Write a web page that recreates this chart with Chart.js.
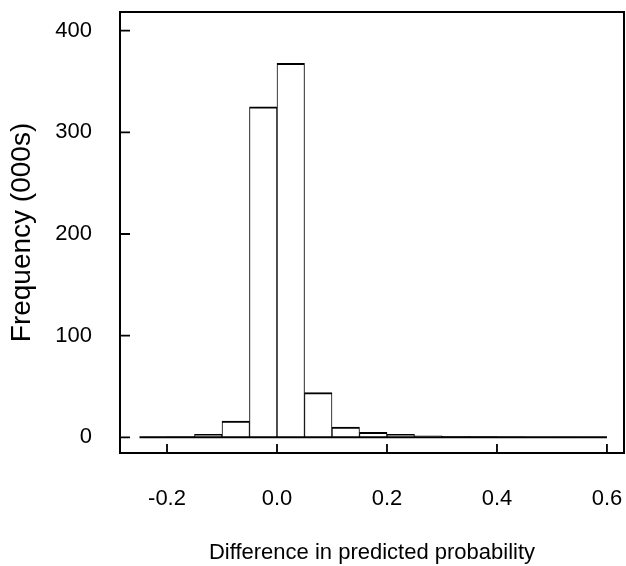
<!DOCTYPE html>
<html>
<head>
<meta charset="utf-8">
<script src="https://cdn.jsdelivr.net/npm/chart.js@4/dist/chart.umd.min.js"></script>
<style>
  html, body { margin: 0; padding: 0; background: #fff; }
  #wrap { width: 626px; height: 566px; }
</style>
</head>
<body>
<div id="wrap"><canvas id="c" width="626" height="566"></canvas></div>
<script>
// Histogram bins (lower edges), width 0.05
const binStarts = [-0.25, -0.2, -0.15, -0.1, -0.05, 0.0, 0.05, 0.1, 0.15, 0.2, 0.25, 0.3, 0.35, 0.4, 0.45, 0.5, 0.55];
const binWidth = 0.05;
// Frequency (000s)
const counts = [0.2, 0.6, 3, 16, 325, 368, 44, 10, 5, 3, 1.5, 1, 0.7, 0.5, 0.3, 0.2, 0.1];

const xTickValues = [-0.2, 0.0, 0.2, 0.4, 0.6];
const xTickLabels = ['-0.2', '0.0', '0.2', '0.4', '0.6'];
const yTickValues = [0, 100, 200, 300, 400];
const yTickLabels = ['0', '100', '200', '300', '400'];

const xTitle = 'Difference in predicted probability';
const yTitle = 'Frequency (000s)';

const FAMILY = '"Liberation Sans", Arial, Helvetica, sans-serif';
const TICK_FONT = { family: FAMILY, size: 22 };
const XTITLE_FONT = { family: FAMILY, size: 22 };
const YTITLE_FONT = { family: FAMILY, size: 28 };

const barData = binStarts.map((s, i) => ({ x: s + binWidth / 2, y: counts[i] }));
const baseData = [
  { x: binStarts[0], y: 0 },
  { x: binStarts[binStarts.length - 1] + binWidth, y: 0 }
];

const framePlugin = {
  id: 'frame',
  afterDraw(chart) {
    const { ctx, chartArea: a, scales } = chart;
    ctx.save();
    ctx.strokeStyle = '#000';
    ctx.lineWidth = 2;
    ctx.strokeRect(a.left, a.top, a.right - a.left, a.bottom - a.top);
    ctx.beginPath();
    ctx.lineWidth = 1.8;
    xTickValues.forEach(v => {
      const px = scales.x.getPixelForValue(v);
      ctx.moveTo(px, a.bottom);
      ctx.lineTo(px, a.bottom - 9);
    });
    yTickValues.forEach(v => {
      const py = scales.y.getPixelForValue(v);
      ctx.moveTo(a.left, py);
      ctx.lineTo(a.left + 10, py);
    });
    ctx.stroke();
    ctx.restore();
  }
};

new Chart(document.getElementById('c'), {
  type: 'bar',
  data: {
    datasets: [
      {
        type: 'line',
        data: baseData,
        borderColor: '#000',
        borderWidth: 2,
        pointRadius: 0,
        fill: false,
        order: 0
      },
      {
        type: 'bar',
        data: barData,
        backgroundColor: '#fff',
        borderColor: '#000',
        borderWidth: { left: 1, right: 1, top: 2, bottom: 0 },
        borderSkipped: 'start',
        barPercentage: 1,
        categoryPercentage: 1,
        order: 1
      }
    ]
  },
  options: {
    responsive: false,
    animation: false,
    devicePixelRatio: 1,
    layout: { padding: { top: 12, right: 2, left: 0, bottom: 0 } },
    plugins: { legend: { display: false }, tooltip: { enabled: false } },
    scales: {
      x: {
        type: 'linear',
        offset: false,
        min: -0.2855,
        max: 0.631,
        grid: { display: false, drawTicks: false },
        border: { display: false },
        afterFit(s) { s.height = 113; s.paddingLeft = 0; s.paddingRight = 0; },
        afterBuildTicks(s) { s.ticks = xTickValues.map(v => ({ value: v })); },
        ticks: {
          color: '#000',
          font: TICK_FONT,
          padding: 33,
          maxRotation: 0,
          autoSkip: false,
          callback: (v) => xTickLabels[xTickValues.indexOf(v)] ?? ''
        },
        title: { display: true, text: xTitle, color: '#000', font: XTITLE_FONT, padding: { top: 0, bottom: 0 } }
      },
      y: {
        type: 'linear',
        min: -15.4,
        max: 418.4,
        grid: { display: false, drawTicks: false },
        border: { display: false },
        afterFit(s) { s.width = 120; s.paddingTop = 0; s.paddingBottom = 0; },
        afterBuildTicks(s) { s.ticks = yTickValues.map(v => ({ value: v })); },
        ticks: {
          color: '#000',
          font: TICK_FONT,
          padding: 28,
          autoSkip: false,
          callback: (v) => yTickLabels[yTickValues.indexOf(v)] ?? ''
        },
        title: { display: true, text: yTitle, color: '#000', font: YTITLE_FONT, padding: { top: 5, bottom: 0 } }
      }
    }
  },
  plugins: [framePlugin]
});
</script>
</body>
</html>
